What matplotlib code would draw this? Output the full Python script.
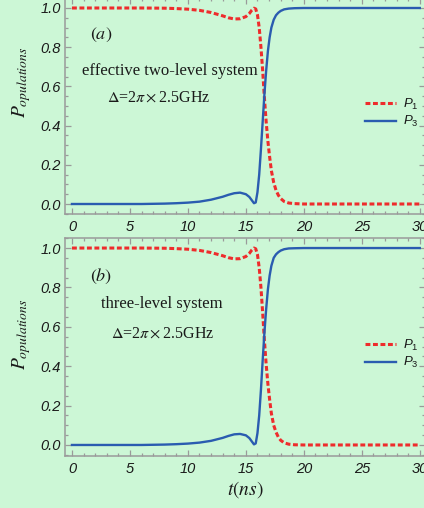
import matplotlib
matplotlib.use("Agg")
import matplotlib.pyplot as plt
from matplotlib.ticker import MultipleLocator

plt.rcParams["font.family"] = ["Liberation Sans", "DejaVu Sans"]
plt.rcParams["mathtext.fontset"] = "custom"
plt.rcParams["mathtext.it"] = "Liberation Sans:italic"
plt.rcParams["mathtext.rm"] = "Liberation Sans"

# time axis (ns), shared by both panels
t = [0, 2, 4, 6, 8, 9, 10, 11, 12, 13, 13.5, 14, 14.5, 15, 15.3, 15.5, 15.7, 15.85,
     16.0, 16.15, 16.3, 16.45, 16.6, 16.75, 16.9, 17.05, 17.2, 17.4, 17.6, 17.8,
     18.0, 18.3, 18.7, 19.2, 20, 22, 25, 30]

# (a) effective two-level system
p1_a = [1.0, 1.0, 1.0, 1.0, 0.999, 0.997, 0.994, 0.988, 0.977, 0.960, 0.950, 0.944,
        0.945, 0.956, 0.972, 0.988, 0.999, 0.995, 0.965, 0.90, 0.80, 0.68, 0.54, 0.42,
        0.32, 0.24, 0.17, 0.11, 0.07, 0.045, 0.028, 0.013, 0.005, 0.002, 0.0, 0.0, 0.0, 0.0]
p3_a = [0.0, 0.0, 0.0, 0.0, 0.002, 0.004, 0.007, 0.012, 0.022, 0.037, 0.047, 0.055,
        0.058, 0.050, 0.036, 0.020, 0.004, 0.008, 0.06, 0.15, 0.28, 0.42, 0.56, 0.68,
        0.78, 0.85, 0.90, 0.94, 0.963, 0.976, 0.985, 0.993, 0.997, 0.999, 1.0, 1.0, 1.0, 1.0]

# (b) three-level system
p1_b = [1.0, 1.0, 1.0, 1.0, 0.999, 0.997, 0.994, 0.988, 0.977, 0.961, 0.951, 0.945,
        0.946, 0.957, 0.973, 0.989, 1.0, 0.996, 0.967, 0.90, 0.80, 0.67, 0.53, 0.41,
        0.31, 0.23, 0.16, 0.10, 0.065, 0.04, 0.024, 0.011, 0.004, 0.001, 0.0, 0.0, 0.0, 0.0]
p3_b = [0.0, 0.0, 0.0, 0.0, 0.002, 0.004, 0.007, 0.012, 0.021, 0.036, 0.046, 0.054,
        0.056, 0.049, 0.035, 0.019, 0.003, 0.008, 0.06, 0.15, 0.28, 0.43, 0.57, 0.69,
        0.79, 0.86, 0.91, 0.95, 0.968, 0.979, 0.987, 0.994, 0.998, 0.999, 1.0, 1.0, 1.0, 1.0]

panels = [
    dict(p1=p1_a, p3=p3_a, tag="$(a)$", desc="effective two-level system",
         rect=[65 / 424, 1 - 214 / 508, 360 / 424, 216 / 508], ylim=(-0.051, 1.051),
         tag_xy=(0.07, 0.83), desc_xy=(0.29, 0.66), delta_xy=(0.26, 0.54), lab_y=0.61),
    dict(p1=p1_b, p3=p3_b, tag="$(b)$", desc="three-level system",
         rect=[65 / 424, 1 - 456 / 508, 360 / 424, 218 / 508], ylim=(-0.056, 1.051),
         tag_xy=(0.07, 0.823), desc_xy=(0.27, 0.696), delta_xy=(0.27, 0.562), lab_y=0.56),
]

bg = "#ccf7d6"
frame = "#9a9a9a"
red = "#ee2c2c"
blue = "#2a5cb0"
ink = "#1a1a1a"

fig = plt.figure(figsize=(4.24, 5.08), dpi=100, facecolor=bg)

for i, p in enumerate(panels):
    ax = fig.add_axes(p["rect"], facecolor=bg)
    ax.plot(t, p["p1"], color=red, lw=2.2, ls=(0, (1.6, 0.85)), label="$P_1$")
    ax.plot(t, p["p3"], color=blue, lw=1.7, label="$P_3$")
    ax.set_xlim(-0.6, 30.45)
    ax.set_ylim(*p["ylim"])

    for s in ax.spines.values():
        s.set_color(frame)
        s.set_linewidth(1.1)
    ax.xaxis.set_minor_locator(MultipleLocator(1))
    ax.yaxis.set_minor_locator(MultipleLocator(0.05))
    ax.tick_params(which="both", direction="in", top=True, right=True, color=frame,
                   labelsize=10.5, labelcolor=ink, width=0.9)
    ax.tick_params(which="major", length=4)
    ax.tick_params(which="minor", length=2)
    ax.tick_params(axis="x", pad=4)
    ax.tick_params(axis="y", pad=3)
    ax.set_yticks([0.0, 0.2, 0.4, 0.6, 0.8, 1.0])
    ax.set_yticklabels(["0.0", "0.2", "0.4", "0.6", "0.8", "1.0"], fontstyle="italic")
    ax.set_xticks([0, 5, 10, 15, 20, 25, 30])
    ax.set_xticklabels(["0", "5", "10", "15", "20", "25", "30"], fontstyle="italic")

    ax.text(-0.12, p["lab_y"], "$P_{opulations}$", transform=ax.transAxes, rotation=90,
            ha="center", va="center", fontsize=14, math_fontfamily="stix", color=ink)
    ax.text(*p["tag_xy"], p["tag"], transform=ax.transAxes, ha="left", va="center",
            fontsize=13, math_fontfamily="stix", color=ink)
    ax.text(*p["desc_xy"], p["desc"], transform=ax.transAxes, ha="center", va="center",
            fontsize=12, family="Liberation Serif", color=ink)
    ax.text(*p["delta_xy"], r"$\Delta$=2$\pi\times$2.5GHz", transform=ax.transAxes,
            ha="center", va="center", fontsize=11.5, family="Liberation Serif",
            math_fontfamily="stix", color=ink)

    ax.legend(loc="center left", bbox_to_anchor=(0.832, 0.468), frameon=False, fontsize=9.5,
              handlelength=2.4, handletextpad=0.5, borderpad=0, borderaxespad=0,
              labelspacing=0.2, labelcolor=ink)

    if i == 1:
        ax.text(0.5, -0.155, "$t(ns)$", transform=ax.transAxes, ha="center", va="center",
                fontsize=14, math_fontfamily="stix", color=ink)

fig.savefig("out.png", dpi=100, facecolor=bg)
